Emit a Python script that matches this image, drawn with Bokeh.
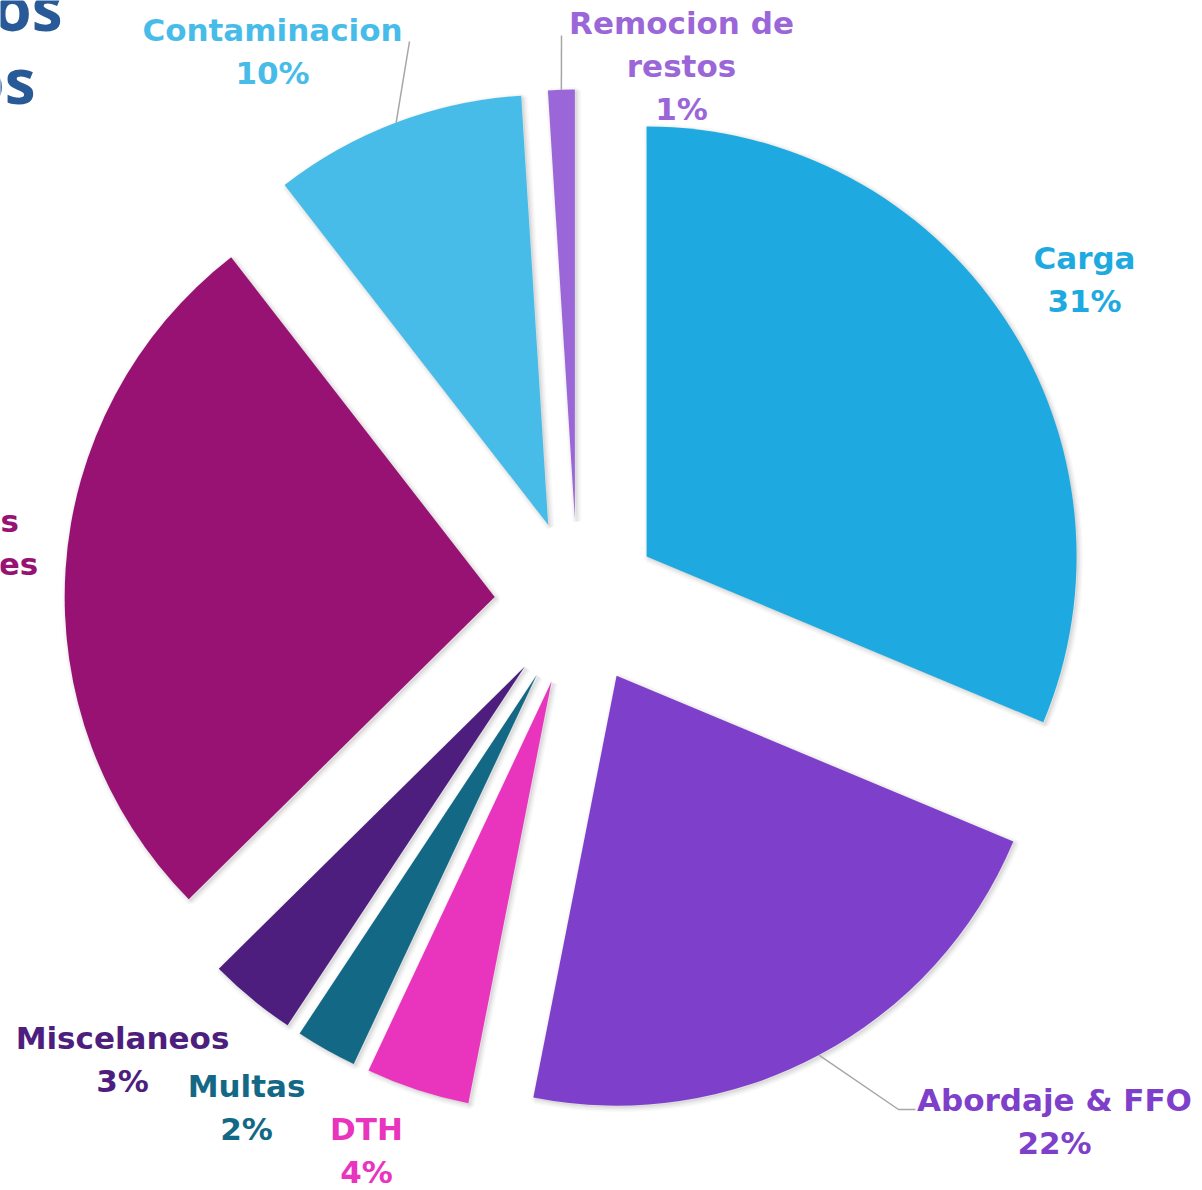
import math
from bokeh.plotting import figure
from bokeh.models import Range1d
from bokeh.core.properties import value
from bokeh.embed import file_html
from bokeh.resources import INLINE

# ---------------- data ----------------
categories = ["Carga", "Abordaje & FFO", "DTH", "Multas", "Miscelaneos",
              "Lesiones personales", "Contaminacion", "Remocion de restos"]
label_lines = [["Carga"], ["Abordaje & FFO"], ["DTH"], ["Multas"], ["Miscelaneos"],
               ["Lesiones", "personales"], ["Contaminacion"], ["Remocion de", "restos"]]
shares = [31.3, 21.8, 3.9, 2.3, 3.3, 26.9, 9.5, 1.0]
colors = ["#1EAAE0", "#7E40CB", "#E935BE", "#136985", "#4D1E7E",
          "#981273", "#48BCE8", "#9B67D8"]
title_lines = ["Reclamos pagados", "por tipos"]

# ---------------- layout ----------------
W, H = 1202, 1190
CX, CY = 577, H - 602
R = 430
EXPLODE = 83
LINE_H = 43
# centre of first label line (screen px)
label_pos = [(1084, 257), (1054, 1099), (366, 1128), (246, 1085), (122, 1037),
             (-58, 520), (272, 29), (681, 22)]
leader = {1: [(898, 1109), (915, 1109)], 6: [(409, 41)], 7: [(561, 35)]}

p = figure(width=W, height=H, output_backend="svg", toolbar_location=None,
           x_range=Range1d(0, W), y_range=Range1d(0, H),
           min_border=0, outline_line_color=None)
p.axis.visible = False
p.grid.visible = False
p.background_fill_color = "white"
p.border_fill_color = "white"

total = float(sum(shares))
cum = 0.0
apexes = []
mids = []
for i, s in enumerate(shares):
    a0 = cum / total * 360.0
    a1 = (cum + s) / total * 360.0
    cum += s
    mid = (a0 + a1) / 2.0
    mids.append(mid)
    dx = math.sin(math.radians(mid))
    dy = math.cos(math.radians(mid))
    ax = CX + EXPLODE * dx
    ay = CY + EXPLODE * dy
    apexes.append((ax, ay))
    start = math.radians(90 - a1)
    end = math.radians(90 - a0)
    # soft shadow
    for k, al in [(9, 0.025), (6, 0.03), (3, 0.04)]:
        p.wedge(x=ax + 2, y=ay - 2, radius=R, start_angle=start, end_angle=end,
                fill_color="black", fill_alpha=0.02, line_color="black", line_alpha=al,
                line_width=k)
    p.wedge(x=ax, y=ay, radius=R, start_angle=start, end_angle=end,
            fill_color=colors[i], line_color=None)

# leader lines
for i, pts in leader.items():
    ax, ay = apexes[i]
    m = math.radians(mids[i])
    sx = ax + R * math.sin(m)
    sy = ay + R * math.cos(m)
    xs = [sx] + [q[0] for q in pts]
    ys = [sy] + [H - q[1] for q in pts]
    p.line(xs, ys, line_color="#A6A6A6", line_width=1.5)

# labels
for i, lines in enumerate(label_lines):
    lx, ly = label_pos[i]
    pct = "%d%%" % int(math.floor(shares[i] / total * 100 + 0.5))
    all_lines = lines + [pct]
    for j, t in enumerate(all_lines):
        p.text(x=[lx], y=[H - (ly + j * LINE_H)], text=[t],
               text_font=value("DejaVu Sans"), text_font_style="bold",
               text_font_size="31px", text_color=colors[i],
               text_align="center", text_baseline="middle")

# partially visible title
title_pos = [(62, 6), (35, 79)]
for t, (tx, ty) in zip(title_lines, title_pos):
    p.text(x=[tx], y=[H - ty], text=[t], text_font=value("Open Sans"),
           text_font_style="bold", text_font_size="62px", text_color="#275A96",
           text_align="right", text_baseline="alphabetic")

open("out.html", "w").write(file_html(p, INLINE))
